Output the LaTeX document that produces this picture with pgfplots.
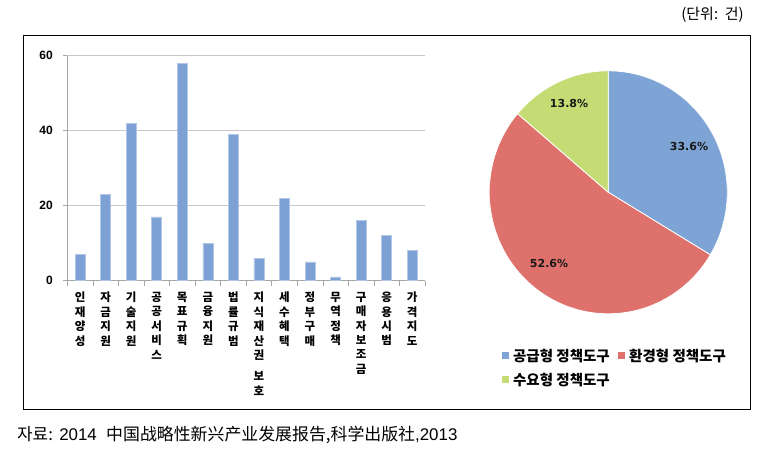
\documentclass[border=0pt]{standalone}
\usepackage{fontspec}
\setmainfont{Liberation Sans}
\newfontfamily\kr{Noto Sans CJK KR}
\newfontfamily\scfont{Noto Sans CJK SC}
\newfontfamily\dv{DejaVu Sans}
\usepackage{pgfplots}
\pgfplotsset{compat=1.18}
\definecolor{barblue}{HTML}{7DA1D4}
\definecolor{pieblue}{HTML}{7EA4D6}
\definecolor{piered}{HTML}{DE716B}
\definecolor{piegreen}{HTML}{C5DB74}
\begin{document}
\begin{tikzpicture}
\path[use as bounding box] (0pt,0pt) rectangle (769pt,463pt);
\draw[black, line width=0.9pt] (23pt,54pt) rectangle (750pt,428pt);
\node[font=\kr\fontsize{15}{17}\selectfont, anchor=east, inner sep=0pt] at (744pt,448pt) {(단위:\ \ 건)};
\node[anchor=west, inner sep=0pt, font=\fontsize{16.9}{19}\selectfont] at (17pt,28pt) {{\kr 자료:} 2014\ \ {\scfont 中国战略性新兴产业发展报告,科学出版社},2013};

\begin{axis}[
  at={(67.3pt,182.3pt)}, anchor=south west,
  width=357.7pt, height=225pt, scale only axis,
  xmin=-0.5, xmax=13.5, ymin=0, ymax=60,
  ytick={0,20,40,60},
  ymajorgrids, grid style={gray!45, line width=0.6pt},
  axis x line*=bottom, axis y line*=left,
  axis line style={gray!70, line width=0.7pt},
  xtick={0,...,13},
  major x tick style={draw=none},
  minor xtick={-0.5,0.5,...,13.5},
  minor x tick style={gray!70, line width=0.6pt},
  minor tick length=5pt,
  major tick length=4pt,
  tick align=outside,
  major y tick style={gray!70, line width=0.6pt},
  yticklabel style={font=\bfseries\fontsize{12}{13}\selectfont, xshift=-7pt},
  /pgf/number format/assume math mode=true,
  xticklabel style={font=\kr\bfseries\fontsize{11.5}{14.4}\selectfont, align=center, anchor=north, yshift=-4pt},
  xticklabels={{인\\재\\양\\성},{자\\금\\지\\원},{기\\술\\지\\원},{공\\공\\서\\비\\스},{목\\표\\규\\획},{금\\융\\지\\원},{법\\률\\규\\범},{지\\식\\재\\산\\권\\[7pt]보\\호},{세\\수\\혜\\택},{정\\부\\구\\매},{무\\역\\정\\책},{구\\매\\자\\보\\조\\금},{응\\용\\시\\범},{가\\격\\지\\도}},
]
\addplot[ybar, bar width=10pt, fill=barblue, draw=barblue!60!white, line width=0.5pt] coordinates {
(0,7) (1,23) (2,42) (3,17) (4,58) (5,10) (6,39) (7,6) (8,22) (9,5) (10,1) (11,16) (12,12) (13,8)};
\end{axis}

\pgfmathsetmacro{\pa}{90}
\pgfmathsetmacro{\pb}{90-3.6*33.6}
\pgfmathsetmacro{\pc}{\pb-3.6*52.6}
\pgfmathsetmacro{\pd}{\pc-3.6*13.8}
\begin{axis}[
  at={(489.3pt,149.2pt)}, anchor=south west,
  width=238pt, height=243pt, scale only axis, hide axis,
  xmin=-1, xmax=1, ymin=-1, ymax=1,
  legend columns=2,
  legend style={draw=none, fill=none, at={(0.047,-0.131)}, anchor=north west,
    font=\kr\bfseries\fontsize{14.5}{16}\selectfont, inner sep=1pt,
    /tikz/every even column/.append style={column sep=6pt}, row sep=6pt,
    /tikz/every odd column/.append style={column sep=0pt}},
  legend image code/.code={\fill[#1, draw=none] (0pt,-3.5pt) rectangle (7pt,3.5pt); \path (9pt,0pt);},
]
\addplot[fill=pieblue, draw=white, line width=0.8pt, domain=\pb:\pa, samples=90] ({cos(x)},{sin(x)}) -- (0,0) -- cycle;
\addlegendentry{공급형 정책도구}
\addplot[fill=piered, draw=white, line width=0.8pt, domain=\pc:\pb, samples=120] ({cos(x)},{sin(x)}) -- (0,0) -- cycle;
\addlegendentry{환경형 정책도구}
\addplot[fill=piegreen, draw=white, line width=0.8pt, domain=\pd:\pc, samples=60] ({cos(x)},{sin(x)}) -- (0,0) -- cycle;
\addlegendentry{수요형 정책도구}
\node[font=\dv\bfseries\fontsize{11}{13}\selectfont, text=black!90] at (axis cs:-0.33,0.73) {13.8\%};
\node[font=\dv\bfseries\fontsize{11}{13}\selectfont, text=black!90] at (axis cs:0.678,0.381) {33.6\%};
\node[font=\dv\bfseries\fontsize{11}{13}\selectfont, text=black!90] at (axis cs:-0.498,-0.59) {52.6\%};
\end{axis}
\end{tikzpicture}
\end{document}
